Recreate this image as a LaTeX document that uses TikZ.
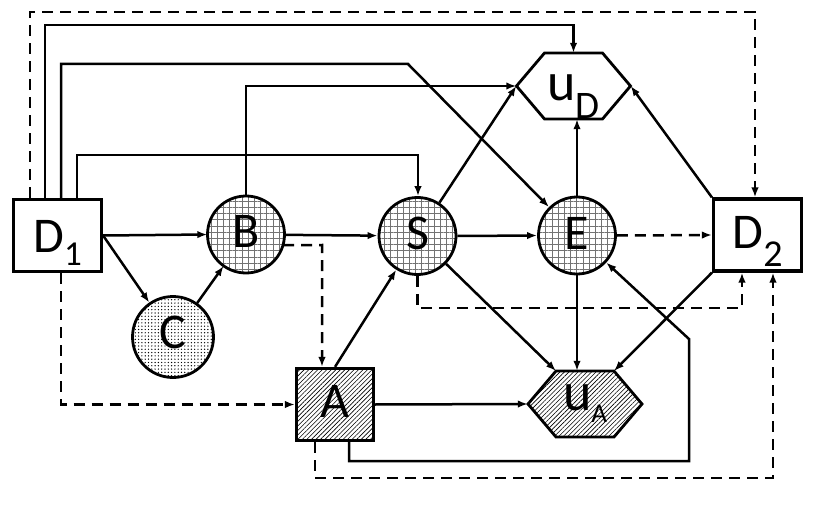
\documentclass[tikz,border=0pt]{standalone}
\usepackage{fontspec}
\setmainfont{Carlito}
\usetikzlibrary{arrows.meta,patterns.meta,calc}
\newcommand{\bigtxt}[1]{\fontsize{50}{50}\selectfont #1}
\newcommand{\subtxt}[3]{\raisebox{-#1}{\fontsize{#2}{#2}\selectfont #3}}
\tikzset{
  conn/.style={line width=2.5pt, -{Latex[length=10pt,width=7.5pt]}},
  dconn/.style={conn, dash pattern=on 11pt off 7pt},
  boxnode/.style={draw, line width=3.2pt, minimum width=88pt, minimum height=72pt, inner sep=0pt},
  gridnode/.style={circle, draw, line width=2.8pt, minimum size=77pt, inner sep=0pt,
    pattern={Hatch[angle=0,distance=6.2pt,line width=0.4pt]}, pattern color=black!55},
  dotnode/.style={circle, draw, line width=2.8pt, minimum size=81pt, inner sep=0pt,
    pattern={Dots[distance=3.3pt,radius=0.7pt]}, pattern color=black},
  hatchnode/.style={draw, line width=3.2pt, minimum width=77pt, minimum height=72pt, inner sep=0pt,
    pattern={Lines[angle=45,distance=3.2pt,line width=0.6pt]}, pattern color=black},
  hexnode/.style={minimum width=114pt, minimum height=66pt, inner sep=0pt},
  hexline/.style={draw, line width=2.8pt, line join=miter},
}
\begin{document}
\begin{tikzpicture}[x=1pt,y=-1pt]
\useasboundingbox (0,0) rectangle (823,511);

% hexagon outlines
\coordinate (uDc) at (573.5,86);
\coordinate (uAc) at (585,404);
\draw[hexline] ($(uDc)+(-57,0)$) -- ($(uDc)+(-29,-33)$) -- ($(uDc)+(29,-33)$) -- ($(uDc)+(57,0)$) -- ($(uDc)+(29,33)$) -- ($(uDc)+(-29,33)$) -- cycle;
\draw[hexline, pattern={Lines[angle=45,distance=3.2pt,line width=0.6pt]}, pattern color=black]
  ($(uAc)+(-57,0)$) -- ($(uAc)+(-29,-33)$) -- ($(uAc)+(29,-33)$) -- ($(uAc)+(57,0)$) -- ($(uAc)+(29,33)$) -- ($(uAc)+(-29,33)$) -- cycle;
\coordinate (uAtl) at ($(uAc)+(-29,-33)$);
\coordinate (uAtr) at ($(uAc)+(29,-33)$);

% nodes
\node[boxnode, text height=33pt, text depth=0pt] (D1) at (57.5,235.5) {\bigtxt{D}\subtxt{13pt}{35}{1}};
\node[boxnode, text height=26pt, text depth=0pt] (D2) at (757.5,235) {\bigtxt{D}\subtxt{18pt}{38}{2}};
\node[gridnode, text height=25pt, text depth=0pt] (B) at (246,234.5) {\bigtxt{B}};
\node[gridnode, text height=26pt, text depth=0pt] (S) at (417.5,236) {\bigtxt{S}};
\node[gridnode, text height=27pt, text depth=0pt] (E) at (577,235.5) {\bigtxt{E}};
\node[dotnode, text height=22pt, text depth=0pt] (C) at (173,337) {\bigtxt{C}};
\node[hatchnode, text height=25pt, text depth=0pt] (A) at (335,404.5) {\bigtxt{A}};
\node[hexnode, text height=28pt, text depth=0pt] (uD) at (uDc) {\fontsize{54}{54}\selectfont u\subtxt{19pt}{39}{D}};
\node[hexnode, text height=12pt, text depth=0pt] (uA) at (uAc) {\fontsize{54}{54}\selectfont u\subtxt{12pt}{27}{A}};

% corner coordinates
\coordinate (k1) at (755,12);
\coordinate (k2) at (573.5,25);
\coordinate (k3) at (408,64);
\coordinate (k5) at (418,155);
\coordinate (k6) at (689,461);
\coordinate (k7) at (689,339);
\coordinate (k8) at (773,478);
\coordinate (k9) at (742,308);
\coordinate (k10) at (322,245);

% connectors from D1 top
\draw[dconn] ([xshift=-27.5pt]D1.north) |- (k1) -- (k1 |- D2.north);
\draw[conn] ([xshift=-12.5pt]D1.north) |- (k2) -- (uD.north);
\draw[conn] ([xshift=3.5pt]D1.north) |- (k3) -- (E);
\draw[conn] ([xshift=19.5pt]D1.north) |- (k5) -- (k5 |- S.north);
\draw[conn] (B.north) |- (uD.west);

% D1 right / bottom
\draw[conn] (D1.east) -- (B.west);
\draw[conn] (D1.east) -- (C);
\draw[conn] (C) -- (B);
\draw[conn] (B) -- (S);
\draw[dconn] (B.-16) -- (k10) -- (k10 |- A.north);
\draw[dconn] ([xshift=3.5pt]D1.south) |- (A.west);

% A
\draw[conn] (A.north) -- (S);
\draw[conn] (A.east) -- (uA.west);
\draw[conn] ([xshift=14pt]A.south) |- (k6) -- (k7) -- (E);
\draw[dconn] ([xshift=-20pt]A.south) |- (k8) -- (k8 |- D2.south);

% S
\draw[dconn] (S.south) |- (k9) -- (k9 |- D2.south);
\draw[conn] (S.east) -- (E.west);
\draw[conn] (S) -- (uD.west);
\draw[conn] (S) -- (uAtl);

% E
\draw[conn] (E.north) -- (E.north |- uD.south);
\draw[conn] (E.south) -- (E.south |- uA.north);
\draw[dconn] (E.east) -- (D2.west);

% D2
\draw[conn] (D2.north west) -- (uD.east);
\draw[conn] (D2.south west) -- (uAtr);
\end{tikzpicture}
\end{document}
